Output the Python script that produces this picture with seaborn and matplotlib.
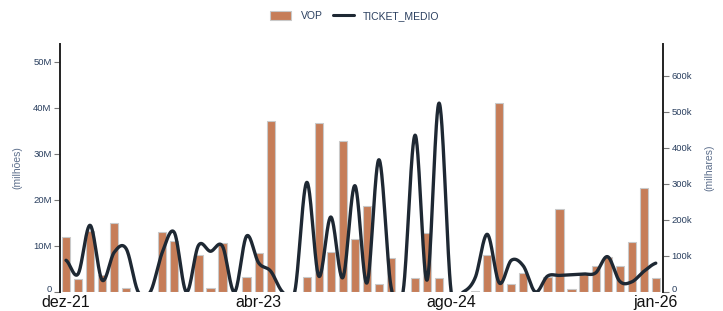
import numpy as np
import pandas as pd
import matplotlib
matplotlib.use("Agg")
import matplotlib.pyplot as plt
import seaborn as sns
from matplotlib.patches import Patch
from matplotlib.lines import Line2D
from matplotlib.transforms import ScaledTranslation

sns.set_theme(style="white")
plt.rcParams["font.family"] = ["Liberation Sans", "DejaVu Sans"]

# -------------------------
# Dados
# -------------------------
nomes_mes = ["jan", "fev", "mar", "abr", "mai", "jun", "jul", "ago", "set", "out", "nov", "dez"]
datas = pd.date_range("2021-12-01", periods=50, freq="MS")
meses = [f"{nomes_mes[d.month - 1]}-{str(d.year)[2:]}" for d in datas]

# VOP em milhões
vop = [11.9, 2.8, 13.2, 3.7, 14.9, 0.9, 0, 0, 13.0, 11.1,
       0, 8.1, 0.8, 10.6, 0, 3.3, 8.5, 37.1, 0, 0,
       3.3, 36.6, 8.6, 32.8, 11.5, 18.7, 1.7, 7.3, 0, 3.0,
       12.7, 3.0, 0, 0, 0.3, 8.0, 41.1, 1.8, 4.2, 0,
       3.2, 17.9, 0.7, 3.9, 5.6, 7.7, 5.6, 10.8, 22.5, 3.0]

# TICKET_MEDIO em milhares
ticket = [88, 50, 185, 33, 110, 120, 0, 0, 110, 165,
          0, 129, 113, 127, 0, 155, 81, 58, 0, 0,
          304, 44, 208, 40, 295, 25, 367, 15, 0, 435,
          33, 524, 0, 0, 40, 160, 25, 88, 72, 0,
          44, 46, 48, 50, 53, 98, 30, 28, 57, 80]

rotulos_x = ["dez-21", "abr-23", "ago-24", "jan-26"]

cor_barra = "#c67d58"
cor_linha = "#1e2833"
cor_texto = "#2a3f5f"
cor_titulo = "#5d6f8c"

df = pd.DataFrame({"mes": meses, "pos": np.arange(len(meses)),
                   "VOP": np.array(vop) * 1e6, "TICKET_MEDIO": np.array(ticket) * 1e3})


def spline_suave(x, y, n=30):
    # curva tipo catmull-rom passando pelos pontos (apenas para desenhar a linha suave)
    x = np.asarray(x, float)
    y = np.asarray(y, float)
    px = np.concatenate([[2 * x[0] - x[1]], x, [2 * x[-1] - x[-2]]])
    py = np.concatenate([[y[0]], y, [y[-1]]])
    xs, ys = [], []
    t = np.linspace(0, 1, n, endpoint=False)
    for i in range(1, len(px) - 2):
        for p, out in ((px, xs), (py, ys)):
            p0, p1, p2, p3 = p[i - 1], p[i], p[i + 1], p[i + 2]
            out.extend(0.5 * ((2 * p1) + (-p0 + p2) * t
                              + (2 * p0 - 5 * p1 + 4 * p2 - p3) * t ** 2
                              + (-p0 + 3 * p1 - 3 * p2 + p3) * t ** 3))
    xs.append(x[-1])
    ys.append(y[-1])
    return np.array(xs), np.array(ys)


fig = plt.figure(figsize=(7.23, 3.11), dpi=100)
ax = fig.add_axes([60 / 723, 19 / 311, 603 / 723, 248 / 311])

ax.bar(df["pos"], df["VOP"], width=0.68, color=cor_barra,
       edgecolor="#c9c9c9", linewidth=0.8, zorder=2)
ax.set_xlim(-0.5, 49.6)
ax.set_ylim(0, 53.8e6)
ax.set_yticks(np.arange(0, 51e6, 10e6))
ax.set_yticklabels(["0"] + [f"{int(v)}M" for v in range(10, 51, 10)])
ax.set_ylabel("(milhões)", color=cor_titulo, fontsize=7.5, labelpad=8)
ax.set_xlabel("")

pos_ticks = [meses.index(r) for r in rotulos_x]
ax.set_xticks(pos_ticks)
ax.set_xticklabels(rotulos_x, fontsize=11.5, color="#111111")
ax.tick_params(axis="x", length=0, pad=2.5)
ax.tick_params(axis="y", length=4, width=0.8, color="#777777", labelsize=6.8,
               labelcolor=cor_texto, pad=2, left=True)

ax2 = ax.twinx()
xs, ys = spline_suave(df["pos"], df["TICKET_MEDIO"])
sns.lineplot(x=xs, y=ys, ax=ax2, color=cor_linha, linewidth=2.4, sort=False,
             estimator=None, zorder=3)
ax2.set_ylim(0, 688e3)
ax2.set_xlim(-0.5, 49.6)
ax2.set_yticks(np.arange(0, 601e3, 100e3))
ax2.set_yticklabels(["0"] + [f"{int(v)}k" for v in range(100, 601, 100)])
ax2.set_ylabel("(milhares)", color=cor_titulo, fontsize=7.5, labelpad=9)
ax2.tick_params(axis="y", length=4, width=0.8, color="#777777", labelsize=6.8,
                labelcolor=cor_texto, pad=2, right=True)

# sobe um pouco o rótulo "0" para não encostar nas datas
desloca = ScaledTranslation(0, 2.5 / 72, fig.dpi_scale_trans)
for lbl in (ax.get_yticklabels()[0], ax2.get_yticklabels()[0]):
    lbl.set_transform(lbl.get_transform() + desloca)

for a in (ax, ax2):
    a.grid(False)
    a.spines["top"].set_visible(False)
    a.spines["bottom"].set_visible(False)
    a.spines["left"].set_color("#222222")
    a.spines["right"].set_color("#222222")
    a.spines["left"].set_linewidth(1.4)
    a.spines["right"].set_linewidth(1.4)
ax.spines["right"].set_visible(False)
ax2.spines["left"].set_visible(False)

handles = [Patch(facecolor=cor_barra, edgecolor="#c9c9c9", linewidth=0.8),
           Line2D([0], [0], color=cor_linha, linewidth=2.2)]
fig.legend(handles, ["VOP", "TICKET_MEDIO"], loc="center", bbox_to_anchor=(0.491, 0.948),
           ncol=2, frameon=False, fontsize=7.5, labelcolor=cor_texto,
           handlelength=2.0, handleheight=1.0, columnspacing=1.0, handletextpad=0.9)

fig.savefig("out.png", dpi=100)
